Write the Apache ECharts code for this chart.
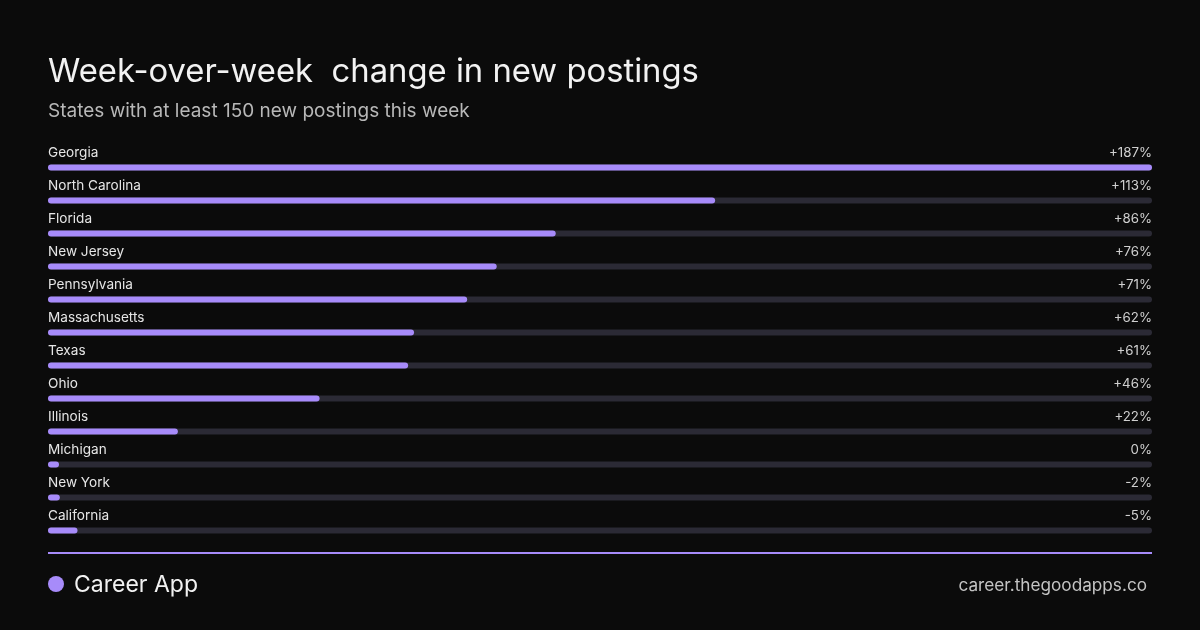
<!DOCTYPE html>
<html>
<head>
<meta charset="utf-8">
<script src="https://cdn.jsdelivr.net/npm/echarts@6/dist/echarts.min.js"></script>
<style>
html,body{margin:0;padding:0;background:#0b0b0b;}
#c{width:1200px;height:630px;}
</style>
</head>
<body>
<div id="c"></div>
<script>
const states = ['Georgia','North Carolina','Florida','New Jersey','Pennsylvania','Massachusetts','Texas','Ohio','Illinois','Michigan','New York','California'];
const changes = [187,113,86,76,71,62,61,46,22,0,-2,-5];
const titleText = 'Week-over-week  change in new postings';
const subtitleText = 'States with at least 150 new postings this week';
const brandText = 'Career App';
const urlText = 'career.thegoodapps.co';

const FONT = 'Inter, "Noto Sans", sans-serif';
const maxAbs = Math.max.apply(null, changes.map(Math.abs));
function fmt(v){ return (v > 0 ? '+' : '') + v + '%'; }

const chart = echarts.init(document.getElementById('c'), null, {renderer:'canvas'});
chart.setOption({
  backgroundColor:'#0b0b0b',
  animation:false,
  title:[
    {text:titleText, left:48, top:56, padding:0, textStyle:{fontFamily:FONT, fontSize:32.8, fontWeight:400, color:'#f2f2f2'}},
    {text:subtitleText, left:48, top:102, padding:0, textStyle:{fontFamily:FONT, fontSize:19, fontWeight:400, color:'#b8b8b8'}}
  ],
  grid:{left:48, right:48, top:150.5, height:396},
  xAxis:{type:'value', min:0, max:maxAbs, show:false},
  yAxis:{type:'category', data:states, inverse:true, show:false},
  series:[{
    type:'custom',
    data: changes.map((v,i)=>[i, v]),
    encode:{x:1, y:0},
    renderItem:function(params, api){
      const i = api.value(0), v = api.value(1);
      const s = api.coord([0, i]);
      const e = api.coord([maxAbs, i]);
      const b = api.coord([Math.abs(v), i]);
      const h = 6;
      const y = s[1] - h/2 + 0.5;
      const bw = Math.max(b[0]-s[0], 11);
      return {type:'group', children:[
        {type:'rect', shape:{x:s[0], y:y, width:e[0]-s[0], height:h, r:3}, style:{fill:'#2b2a35'}},
        {type:'rect', shape:{x:s[0], y:y, width:bw, height:h, r:3}, style:{fill:'#a78bfa'}},
        {type:'text', style:{text:states[i], x:s[0], y:s[1]-14, fill:'#e6e6e6', font:'400 13.6px '+FONT, textAlign:'left', textVerticalAlign:'middle'}},
        {type:'text', style:{text:fmt(v), x:e[0], y:s[1]-14, fill:'#d0d0d0', font:'400 13.3px '+FONT, textAlign:'right', textVerticalAlign:'middle'}}
      ]};
    }
  }],
  graphic:[
    {type:'rect', shape:{x:48, y:552, width:1104, height:2}, style:{fill:'#a78bfa'}},
    {type:'circle', shape:{cx:56, cy:584, r:8}, style:{fill:'#a78bfa'}},
    {type:'text', style:{text:brandText, x:74, y:585, fill:'#f2f2f2', font:'400 23px '+FONT, textVerticalAlign:'middle'}},
    {type:'text', style:{text:urlText, x:1147, y:585.5, fill:'#c4c4c4', font:'400 17.2px '+FONT, textAlign:'right', textVerticalAlign:'middle'}}
  ]
});
</script>
</body>
</html>
